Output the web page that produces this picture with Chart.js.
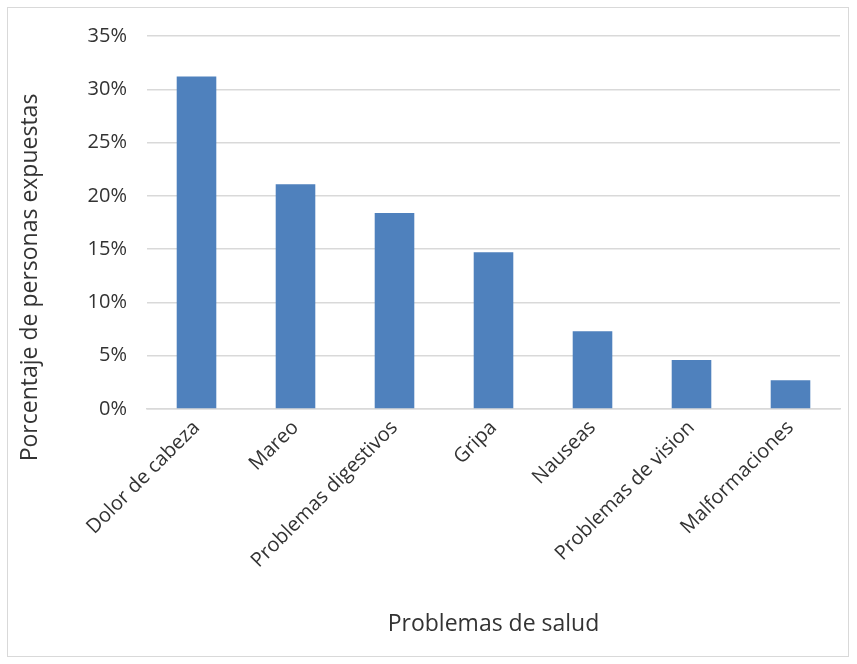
<!DOCTYPE html>
<html>
<head>
<meta charset="utf-8">
<script src="https://cdn.jsdelivr.net/npm/chart.js@4/dist/chart.umd.min.js"></script>
<style>
  html, body { margin: 0; padding: 0; background: #fff; }
  #frame { position: absolute; left: 7px; top: 7px; width: 840px; height: 648px; border: 1.5px solid #d9d9d9; }
  #wrap { position: absolute; left: 0; top: 0; width: 857px; height: 664px; }
</style>
</head>
<body>
<div id="frame"></div>
<div id="wrap"><canvas id="chart" width="857" height="664"></canvas></div>
<script>
// Problemas de salud y porcentaje de personas expuestas
const categories = ['Dolor de cabeza', 'Mareo', 'Problemas digestivos', 'Gripa', 'Nauseas', 'Problemas de vision', 'Malformaciones'];
const values     = [31.2, 21.1, 18.4, 14.7, 7.3, 4.6, 2.7];
const yTicks     = [0, 5, 10, 15, 20, 25, 30, 35];
const yTitle     = 'Porcentaje de personas expuestas';

const FONT = "'Open Sans', 'Noto Sans', sans-serif";
const TEXT = '#333333';
const GRID = '#d9d9d9';

// the y title sits lower than the plot centre in the original, so draw it by hand
const yTitlePlugin = {
  id: 'yTitle',
  afterDraw(chart) {
    const ctx = chart.ctx;
    const area = chart.chartArea;
    ctx.save();
    ctx.translate(30, (area.top + area.bottom) / 2 + 55);
    ctx.rotate(-Math.PI / 2);
    ctx.font = '23px ' + FONT;
    ctx.fillStyle = TEXT;
    ctx.textAlign = 'center';
    ctx.textBaseline = 'middle';
    ctx.fillText(yTitle, 0, 0);
    ctx.restore();
  }
};

new Chart(document.getElementById('chart'), {
  type: 'bar',
  data: {
    labels: categories,
    datasets: [{
      data: values,
      backgroundColor: '#4f81bd',
      borderWidth: 0,
      barPercentage: 0.4,
      categoryPercentage: 1
    }]
  },
  options: {
    responsive: false,
    animation: false,
    layout: { padding: { left: 47, right: 17, top: 36, bottom: 22 } },
    plugins: { legend: { display: false }, tooltip: { enabled: false } },
    scales: {
      x: {
        grid: { display: false, drawTicks: false },
        border: { color: GRID, width: 1.5 },
        ticks: {
          color: TEXT, font: { family: FONT, size: 20 },
          minRotation: 45, maxRotation: 45, autoSkip: false, padding: 7
        },
        title: {
          display: true, text: 'Problemas de salud',
          color: TEXT, font: { family: FONT, size: 23 }
        },
        afterFit: s => { s.height = 233; }
      },
      y: {
        min: 0, max: 35,
        afterBuildTicks: s => { s.ticks = yTicks.map(v => ({ value: v })); },
        grid: { color: GRID, lineWidth: 1.5, drawTicks: false },
        border: { display: false },
        ticks: {
          color: TEXT, font: { family: FONT, size: 20 }, padding: 20,
          callback: v => v + '%'
        },
        afterFit: s => { s.width = 100; }
      }
    }
  },
  plugins: [yTitlePlugin]
});
</script>
</body>
</html>
